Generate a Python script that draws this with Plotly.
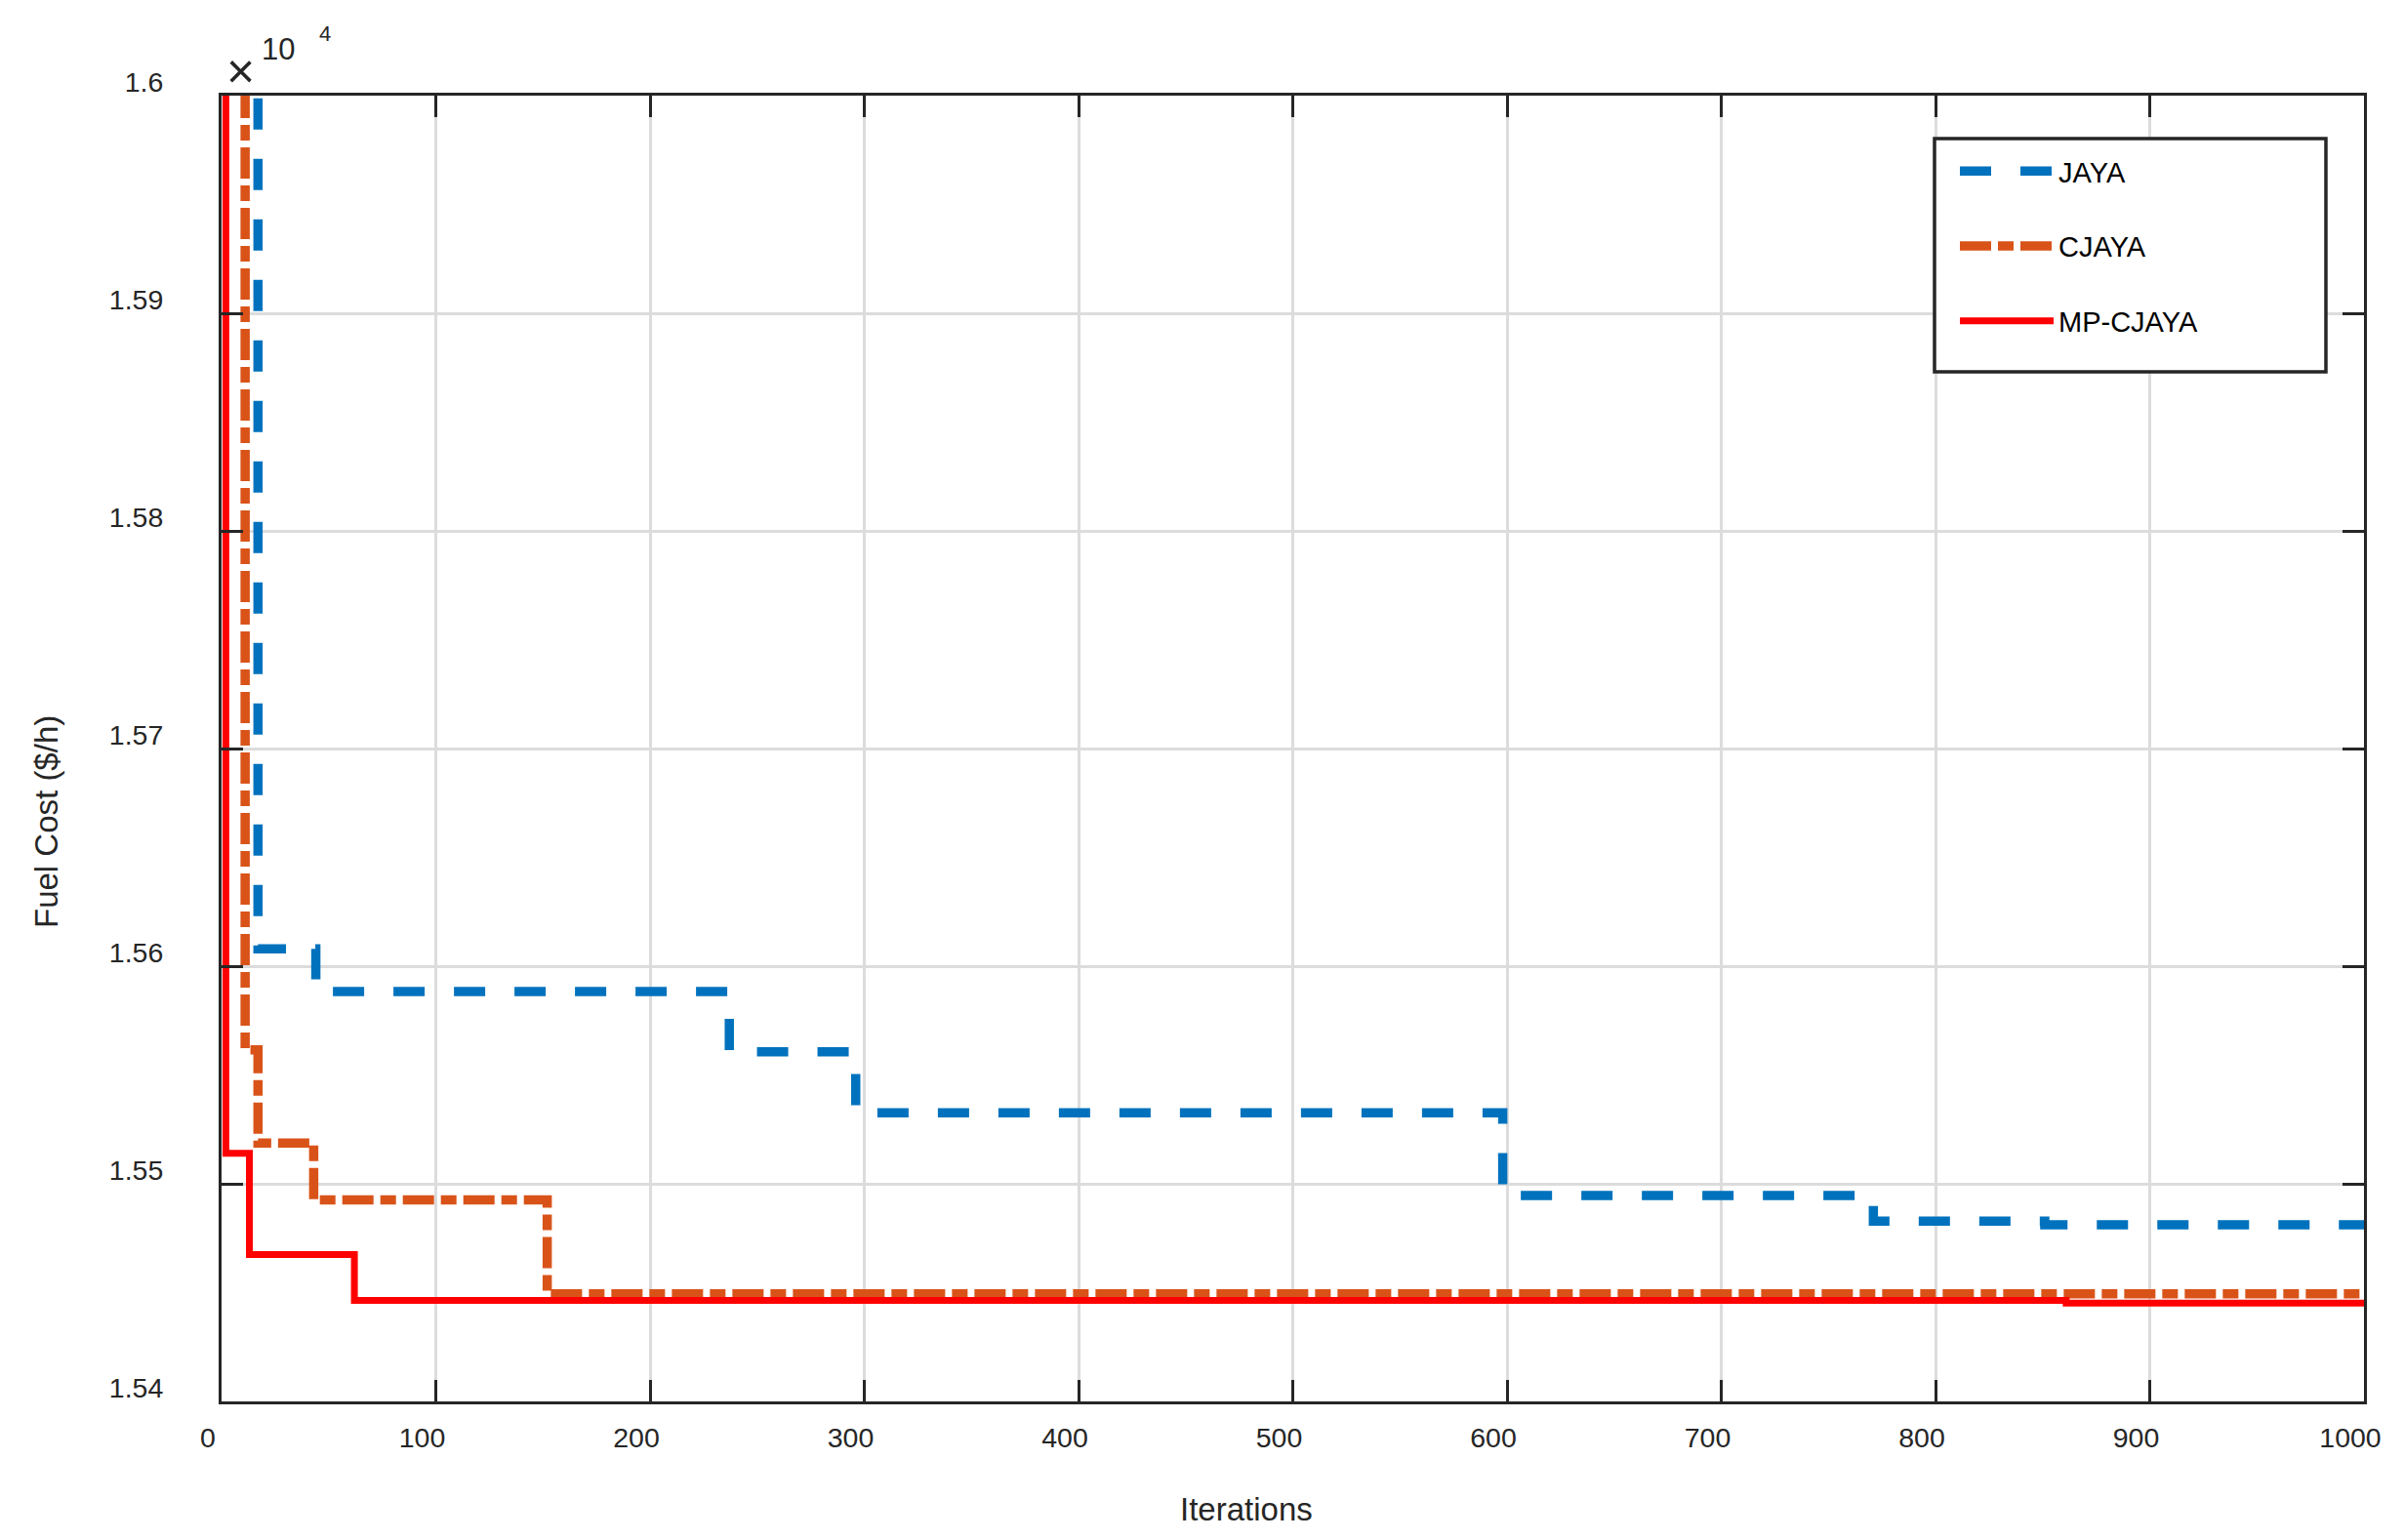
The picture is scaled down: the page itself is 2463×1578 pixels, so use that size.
import plotly.graph_objects as go

# ---- data (fuel cost in $/h, step changes at the given iterations) ----
jaya_iter = [1, 17, 44, 237, 296, 598, 771, 851, 1000]
jaya_cost = [16400, 15608, 15588.3, 15560.7, 15532.6, 15494.6, 15482.8, 15481.2, 15481.2]

cjaya_iter = [1, 11, 17, 43, 152, 1000]
cjaya_cost = [16300, 15561.6, 15518.7, 15492.6, 15449.4, 15449.4]

mp_iter = [1, 2, 13, 62, 861, 1000]
mp_cost = [16300, 15514, 15467.5, 15446.4, 15445.2, 15445.2]

names = ["JAYA", "CJAYA", "MP-CJAYA"]
colors = ["#0072BD", "#D95319", "#FF0000"]

x_ticks = [0, 100, 200, 300, 400, 500, 600, 700, 800, 900, 1000]
y_ticks = [1.54, 1.55, 1.56, 1.57, 1.58, 1.59, 1.60]
y_tick_text = ["1.54", "1.55", "1.56", "1.57", "1.58", "1.59", "1.6"]
scale = 1e4

W, H = 2463, 1578
L, R, T, B = 227, 2463 - 2422, 98, 1578 - 1436
PW, PH = W - L - R, H - T - B

FONT = "Liberation Sans, Arial, sans-serif"
AX = "#262626"

fig = go.Figure()
series = [(jaya_iter, jaya_cost, "32px,30px", 9.5),
          (cjaya_iter, cjaya_cost, "32px,7px,16px,7px", 9.5),
          (mp_iter, mp_cost, "solid", 7)]
for i, (xs, ys, dash, w) in enumerate(series):
    fig.add_trace(go.Scatter(
        x=xs, y=[v / scale for v in ys], mode="lines", name=names[i],
        line=dict(color=colors[i], width=w, dash=dash, shape="hv"),
        legendgroup=names[i],
    ))

def px(x):
    return (x - L) / PW

def py(y):
    return (T + PH - y) / PH

axis_common = dict(
    showline=True, linecolor=AX, linewidth=3, mirror="ticks",
    ticks="inside", ticklen=22, tickwidth=3, tickcolor=AX,
    showgrid=True, gridcolor="#dcdcdc", gridwidth=2.5,
    zeroline=False, tickfont=dict(family=FONT, size=28.5, color=AX),
)

fig.update_xaxes(range=[0, 1000], tickvals=x_ticks, ticklabelstandoff=10,
                 ticklabelshift=-14, **axis_common)
fig.update_yaxes(range=[1.54, 1.60], tickvals=y_ticks, ticktext=y_tick_text,
                 ticklabelstandoff=51, ticklabelshift=-14, **axis_common)

annotations = [
    dict(text="Iterations", x=px(1277), y=py(1546), xref="paper", yref="paper",
         showarrow=False, font=dict(family=FONT, size=33, color=AX),
         xanchor="center", yanchor="middle"),
    dict(text="Fuel Cost ($/h)", x=px(47), y=py(842), xref="paper", yref="paper",
         showarrow=False, textangle=-90, font=dict(family=FONT, size=33, color=AX),
         xanchor="center", yanchor="middle"),
    dict(text="×", x=px(246), y=py(73), xref="paper", yref="paper",
         showarrow=False, font=dict(family=FONT, size=50, color=AX),
         xanchor="center", yanchor="middle"),
    dict(text="10", x=px(285), y=py(51), xref="paper", yref="paper",
         showarrow=False, font=dict(family=FONT, size=31, color=AX),
         xanchor="center", yanchor="middle"),
    dict(text="4", x=px(333), y=py(35), xref="paper", yref="paper",
         showarrow=False, font=dict(family=FONT, size=22, color=AX),
         xanchor="center", yanchor="middle"),
]

# legend frame (the legend itself is drawn borderless inside it)
shapes = [dict(type="rect", xref="paper", yref="paper",
               x0=px(1982), x1=px(2383), y0=py(381), y1=py(142),
               line=dict(color=AX, width=3.5), fillcolor="white", layer="above")]

fig.update_layout(
    width=W, height=H,
    margin=dict(l=L, r=R, t=T, b=B, pad=0),
    paper_bgcolor="white", plot_bgcolor="white",
    showlegend=True,
    legend=dict(
        x=px(2003), y=py(150), xanchor="left", yanchor="top",
        bgcolor="rgba(0,0,0,0)", borderwidth=0,
        font=dict(family=FONT, size=29, color="#000000"),
        traceorder="grouped", tracegroupgap=36,
        itemwidth=96,
    ),
    annotations=annotations,
    shapes=shapes,
)

fig.write_html("out.html", config={"displayModeBar": False})
with open("out.html", "r", encoding="utf-8") as f:
    html = f.read()
html = html.replace("<head>", "<head><style>html,body{margin:0;padding:0;overflow:hidden;}</style>", 1)
with open("out.html", "w", encoding="utf-8") as f:
    f.write(html)
